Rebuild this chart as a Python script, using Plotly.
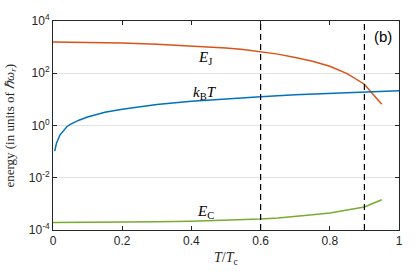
import plotly.graph_objects as go

# Data
T_EJ = [0, 0.1, 0.2, 0.3, 0.4, 0.5, 0.55, 0.6, 0.65, 0.7, 0.75, 0.8, 0.85, 0.9, 0.95]
E_J = [1570, 1540, 1450, 1300, 1130, 920, 810, 680, 540, 400, 290, 186, 97, 38, 6.5]

T_kT = [0.005, 0.01, 0.02, 0.03, 0.04, 0.05, 0.075, 0.1, 0.15, 0.2, 0.3, 0.4, 0.5, 0.6, 0.7, 0.8, 0.9, 1.0]
kBT = [0.105, 0.21, 0.43, 0.65, 0.9, 1.1, 1.6, 2.1, 3.2, 4.2, 6.4, 8.5, 10.6, 12.7, 14.9, 17.0, 19.2, 21.3]

T_EC = [0, 0.1, 0.2, 0.3, 0.4, 0.5, 0.55, 0.6, 0.65, 0.7, 0.75, 0.8, 0.85, 0.9, 0.95]
E_C = [1.93e-4, 1.95e-4, 2.0e-4, 2.07e-4, 2.17e-4, 2.35e-4, 2.48e-4, 2.62e-4, 2.9e-4,
       3.25e-4, 3.8e-4, 4.5e-4, 5.85e-4, 7.55e-4, 1.44e-3]

vlines = [0.6, 0.9]
x_ticks = [0, 0.2, 0.4, 0.6, 0.8, 1]
x_ticktext = ["0", "0.2", "0.4", "0.6", "0.8", "1"]
y_ticks = [1e-4, 1e-2, 1e0, 1e2, 1e4]
y_ticktext = ["10<sup>-4</sup>", "10<sup>-2</sup>", "10<sup>0</sup>", "10<sup>2</sup>", "10<sup>4</sup>"]

serif = "Liberation Serif"
sans = "Liberation Sans"

fig = go.Figure()
fig.add_trace(go.Scatter(x=T_EJ, y=E_J, mode="lines", line=dict(color="#D95319", width=1.5)))
fig.add_trace(go.Scatter(x=T_kT, y=kBT, mode="lines", line=dict(color="#0072BD", width=1.5)))
fig.add_trace(go.Scatter(x=T_EC, y=E_C, mode="lines", line=dict(color="#77AC30", width=1.5)))

for xv in vlines:
    fig.add_shape(type="line", xref="x", yref="paper", x0=xv, x1=xv, y0=0, y1=1,
                  line=dict(color="black", width=1.2, dash="6px,4px"))

ann = dict(showarrow=False, xanchor="center", yanchor="middle")
fig.add_annotation(x=0.44, y=2.58, xref="x", yref="y", text="<i>E</i><sub>J</sub>",
                   font=dict(family=serif, size=15, color="black"), **ann)
fig.add_annotation(x=0.44, y=1.25, xref="x", yref="y", text="<i>k</i><sub>B</sub><i>T</i>",
                   font=dict(family=serif, size=15, color="black"), **ann)
fig.add_annotation(x=0.44, y=-3.3, xref="x", yref="y", text="<i>E</i><sub>C</sub>",
                   font=dict(family=serif, size=15, color="black"), **ann)
fig.add_annotation(x=0.955, y=0.925, xref="paper", yref="paper", text="(b)",
                   font=dict(family=sans, size=15, color="black"), **ann)
fig.add_annotation(x=-0.124, y=0.5, xref="paper", yref="paper",
                   text="energy (in units of <i>ℏω<sub>r</sub></i>)", textangle=-90,
                   font=dict(family=serif, size=13, color="#262626"), **ann)
fig.add_annotation(x=0.5, y=-0.135, xref="paper", yref="paper",
                   text="<i>T</i>/<i>T</i><sub>c</sub>",
                   font=dict(family=serif, size=14, color="#262626"), **ann)

axis_common = dict(showline=True, linecolor="#262626", linewidth=1, mirror="ticks",
                   ticks="inside", ticklen=4, tickcolor="#262626", zeroline=False,
                   tickfont=dict(family=sans, size=12, color="#262626"))

fig.update_xaxes(range=[0, 1], tickvals=x_ticks, ticktext=x_ticktext, showgrid=False,
                 **axis_common)
fig.update_yaxes(type="log", range=[-4, 4], tickvals=y_ticks, ticktext=y_ticktext,
                 showgrid=True, gridcolor="#e3e3e3", gridwidth=1, **axis_common)

fig.update_layout(width=415, height=271, margin=dict(l=53, r=16, t=14, b=41),
                  paper_bgcolor="white", plot_bgcolor="white", showlegend=False)

fig.write_html("out.html", config={"displayModeBar": False},
               post_script="document.body.style.margin='0';document.body.style.overflow='hidden';")
